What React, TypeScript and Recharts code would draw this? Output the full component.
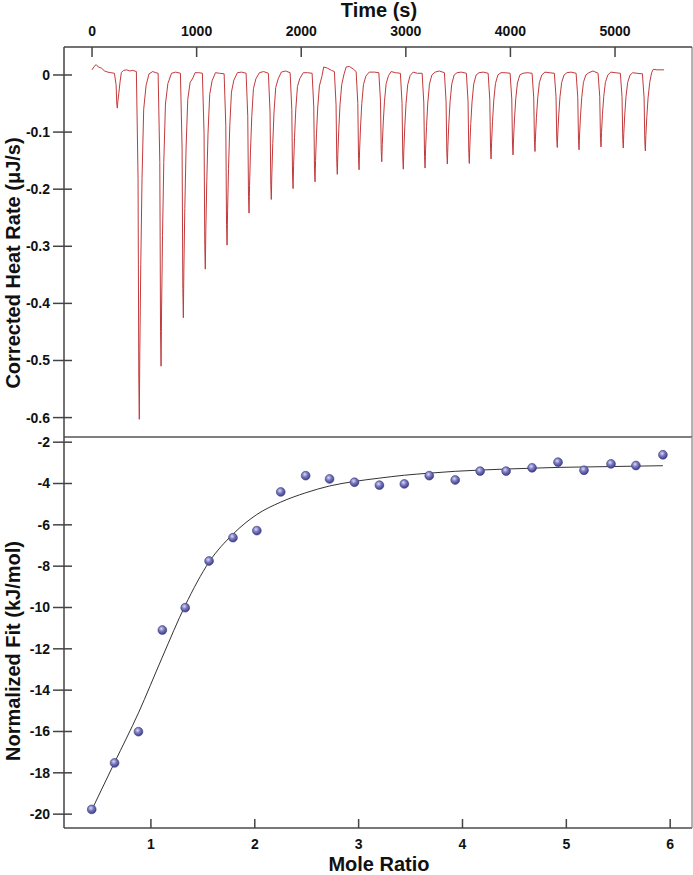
import React from 'react';
import {
  LineChart, Line, XAxis, YAxis, ComposedChart, Scatter, ReferenceLine,
} from 'recharts';

const FONT = "Arial, 'Liberation Sans', Helvetica, sans-serif";

// ---------- Top panel: thermogram (time s, corrected heat rate µJ/s) ----------
const heatTrace: [number, number][] = [
  [0, 0.009], [20, 0.015], [40, 0.018], [60, 0.014], [90, 0.012], [120, 0.007], [150, 0.005], [180, 0.004], [214, 0.003],
  [230, -0.017], [237, -0.051], [242, -0.058], [247, -0.046], [256, -0.032], [268, -0.012], [280, 0.004],
  [300, 0.008], [330, 0.009], [360, 0.007], [390, 0.008], [424, 0.006],
  [440, -0.181], [447, -0.531], [452, -0.603], [457, -0.482], [466, -0.332], [478, -0.181], [494, -0.060], [517, -0.018],
  [545, 0.002], [580, 0.006], [610, 0.004], [632, 0.003],
  [648, -0.153], [655, -0.449], [660, -0.510], [665, -0.408], [674, -0.281], [686, -0.153], [702, -0.051], [725, -0.015],
  [760, 0.003], [800, 0.005], [845, 0.003],
  [861, -0.128], [868, -0.374], [873, -0.425], [878, -0.340], [887, -0.234], [899, -0.128], [915, -0.043], [938, -0.013],
  [965, -0.005], [985, 0.004], [1020, 0.004], [1055, 0.003],
  [1071, -0.102], [1078, -0.299], [1083, -0.340], [1088, -0.272], [1097, -0.187], [1109, -0.102], [1125, -0.034], [1148, -0.010],
  [1180, 0.004], [1220, 0.003], [1263, 0.002],
  [1279, -0.089], [1286, -0.262], [1291, -0.298], [1296, -0.238], [1305, -0.164], [1317, -0.089], [1333, -0.030], [1356, -0.009],
  [1390, 0.004], [1430, 0.005], [1473, 0.003],
  [1489, -0.073], [1496, -0.213], [1501, -0.242], [1506, -0.194], [1515, -0.133], [1527, -0.073], [1543, -0.024], [1566, -0.007],
  [1600, 0.004], [1640, 0.006], [1686, 0.003],
  [1702, -0.065], [1709, -0.192], [1714, -0.218], [1719, -0.174], [1728, -0.120], [1740, -0.065], [1756, -0.022], [1779, -0.007],
  [1810, 0.005], [1850, 0.007], [1894, 0.004],
  [1910, -0.060], [1917, -0.175], [1922, -0.199], [1927, -0.159], [1936, -0.109], [1948, -0.060], [1964, -0.020], [1987, -0.006],
  [2020, 0.004], [2060, 0.004], [2104, 0.003],
  [2120, -0.056], [2127, -0.165], [2132, -0.187], [2137, -0.150], [2146, -0.103], [2158, -0.056], [2174, -0.019], [2197, -0.003],
  [2215, 0.014], [2250, 0.012], [2290, 0.008], [2317, 0.006],
  [2333, -0.052], [2340, -0.153], [2345, -0.174], [2350, -0.139], [2359, -0.096], [2371, -0.052], [2387, -0.017], [2410, 0.002],
  [2430, 0.014], [2460, 0.015], [2500, 0.010], [2525, 0.006],
  [2541, -0.050], [2548, -0.146], [2553, -0.166], [2558, -0.133], [2567, -0.091], [2579, -0.050], [2595, -0.017], [2618, -0.002],
  [2650, 0.005], [2700, 0.005], [2742, 0.004],
  [2758, -0.046], [2765, -0.134], [2770, -0.152], [2775, -0.122], [2784, -0.084], [2796, -0.046], [2812, -0.015], [2835, -0.001],
  [2860, 0.006], [2900, 0.004], [2948, 0.003],
  [2964, -0.050], [2971, -0.145], [2976, -0.165], [2981, -0.132], [2990, -0.091], [3002, -0.050], [3018, -0.017], [3041, -0.001],
  [3070, 0.005], [3110, 0.003], [3156, 0.003],
  [3172, -0.049], [3179, -0.143], [3184, -0.163], [3189, -0.130], [3198, -0.090], [3210, -0.049], [3226, -0.016], [3249, 0.000],
  [3280, 0.005], [3320, 0.007], [3369, 0.004],
  [3385, -0.047], [3392, -0.137], [3397, -0.156], [3402, -0.125], [3411, -0.086], [3423, -0.047], [3439, -0.016], [3462, 0.000],
  [3490, 0.004], [3530, 0.005], [3579, 0.003],
  [3595, -0.047], [3602, -0.136], [3607, -0.155], [3612, -0.124], [3621, -0.085], [3633, -0.047], [3649, -0.016], [3672, 0.000],
  [3700, 0.004], [3740, 0.005], [3787, 0.003],
  [3803, -0.044], [3810, -0.129], [3815, -0.147], [3820, -0.118], [3829, -0.081], [3841, -0.044], [3857, -0.015], [3880, 0.000],
  [3910, 0.004], [3950, 0.004], [3997, 0.003],
  [4013, -0.042], [4020, -0.123], [4025, -0.140], [4030, -0.112], [4039, -0.077], [4051, -0.042], [4067, -0.014], [4090, 0.000],
  [4120, 0.003], [4160, 0.004], [4207, 0.003],
  [4223, -0.040], [4230, -0.118], [4235, -0.134], [4240, -0.107], [4249, -0.074], [4261, -0.040], [4277, -0.013], [4300, 0.000],
  [4330, 0.005], [4370, 0.004], [4420, 0.003],
  [4436, -0.038], [4443, -0.112], [4448, -0.127], [4453, -0.102], [4462, -0.070], [4474, -0.038], [4490, -0.013], [4513, 0.000],
  [4540, 0.004], [4580, 0.005], [4628, 0.003],
  [4644, -0.039], [4651, -0.115], [4656, -0.131], [4661, -0.105], [4670, -0.072], [4682, -0.039], [4698, -0.013], [4721, 0.000],
  [4750, 0.004], [4790, 0.007], [4838, 0.003],
  [4854, -0.038], [4861, -0.111], [4866, -0.126], [4871, -0.101], [4880, -0.069], [4892, -0.038], [4908, -0.013], [4931, 0.000],
  [4960, 0.005], [5000, 0.004], [5051, 0.003],
  [5067, -0.038], [5074, -0.113], [5079, -0.128], [5084, -0.102], [5093, -0.070], [5105, -0.038], [5121, -0.013], [5144, 0.000],
  [5170, 0.004], [5210, 0.003], [5262, 0.002],
  [5278, -0.040], [5285, -0.117], [5290, -0.133], [5295, -0.106], [5304, -0.073], [5316, -0.040], [5332, -0.013], [5350, 0.004],
  [5366, 0.010], [5400, 0.009], [5440, 0.009], [5469, 0.009],
];

const timeTicks = [0, 1000, 2000, 3000, 4000, 5000];
const rateTicks = [0, -0.1, -0.2, -0.3, -0.4, -0.5, -0.6];
const TIME_DOMAIN: [number, number] = [-268, 5736];
const RATE_DOMAIN: [number, number] = [-0.634, 0.049];

// ---------- Bottom panel: integrated heats (mole ratio vs kJ/mol) ----------
const moleRatio = [0.43, 0.65, 0.88, 1.11, 1.33, 1.56, 1.79, 2.02, 2.25, 2.49, 2.72, 2.96,
  3.20, 3.44, 3.68, 3.93, 4.17, 4.42, 4.67, 4.92, 5.17, 5.43, 5.67, 5.93];
const normalizedHeat = [-19.77, -17.52, -16.01, -11.09, -10.01, -7.75, -6.62, -6.28, -4.41, -3.62, -3.78, -3.94,
  -4.08, -4.02, -3.62, -3.83, -3.40, -3.40, -3.24, -2.97, -3.36, -3.05, -3.13, -2.61];
const fitHeat = [-19.8, -17.5, -15.1, -12.4, -9.9, -7.8, -6.45, -5.5, -4.9, -4.45, -4.12, -3.9,
  -3.74, -3.6, -3.5, -3.41, -3.35, -3.3, -3.26, -3.22, -3.2, -3.18, -3.16, -3.14];

const ratioTicks = [1, 2, 3, 4, 5, 6];
const heatTicks = [-2, -4, -6, -8, -10, -12, -14, -16, -18, -20];
const RATIO_DOMAIN: [number, number] = [0.163, 6.21];
const HEAT_DOMAIN: [number, number] = [-20.67, -1.75];

const thermoData = heatTrace.map(([t, v]) => ({ t, v }));
const pointData = moleRatio.map((x, i) => ({ x, y: normalizedHeat[i] }));
const fitData = moleRatio.map((x, i) => ({ x, y: fitHeat[i] }));

const W = 693;
const H = 875;
const AXIS = '#444';

const labelStyle = { fontFamily: FONT, fontSize: 14, fontWeight: 'bold' as const, fill: '#111' };
const titleStyle = { fontFamily: FONT, fontSize: 20, fontWeight: 'bold' as const, fill: '#111' };

const LeftTick = (props: any) => {
  const { x, y, payload } = props;
  return (
    <g>
      <line x1={x - 11} x2={x + 8} y1={y} y2={y} stroke={AXIS} strokeWidth={1.5} />
      <text x={x - 14} y={y} dy={5} textAnchor="end" {...labelStyle}>{payload.value}</text>
    </g>
  );
};

const TopTick = (props: any) => {
  const { x, y, payload } = props;
  return (
    <g>
      <line x1={x} x2={x} y1={y} y2={y + 10} stroke={AXIS} strokeWidth={1.5} />
      <text x={x} y={y - 11} textAnchor="middle" {...labelStyle}>{payload.value}</text>
    </g>
  );
};

const BottomTick = (props: any) => {
  const { x, y, payload } = props;
  return (
    <g>
      <line x1={x} x2={x} y1={y} y2={y - 9} stroke={AXIS} strokeWidth={1.5} />
      <text x={x} y={y + 21} textAnchor="middle" {...labelStyle}>{payload.value}</text>
    </g>
  );
};

const Ball = (props: any) => {
  const { cx, cy } = props;
  if (cx == null || cy == null) return null;
  return <circle cx={cx} cy={cy} r={4.4} fill="url(#ballGrad)" stroke="#3a3a80" strokeWidth={0.6} />;
};

export default function App() {
  return (
    <div style={{ position: 'absolute', left: 0, top: 0, width: W, height: H, background: '#fff' }}>
      <div style={{ position: 'absolute', left: 0, top: 0 }}>
        <LineChart width={W} height={H} data={thermoData}
          margin={{ top: 17, right: 1, bottom: 438, left: 0 }}>
          <XAxis dataKey="t" type="number" orientation="top" domain={TIME_DOMAIN} allowDataOverflow
            ticks={timeTicks} interval={0} tickSize={0} tickMargin={0} tickLine={false} height={30}
            axisLine={{ stroke: AXIS, strokeWidth: 1.5 }} tick={<TopTick />} />
          <YAxis type="number" domain={RATE_DOMAIN} allowDataOverflow ticks={rateTicks} interval={0}
            width={64} tickSize={0} tickMargin={0} tickLine={false}
            axisLine={{ stroke: AXIS, strokeWidth: 1.5 }} tick={<LeftTick />} />
          <ReferenceLine x={TIME_DOMAIN[1]} stroke="#999" strokeWidth={1.5} />
          <ReferenceLine y={RATE_DOMAIN[0]} stroke="#555" strokeWidth={1.5} />
          <Line dataKey="v" type="linear" stroke="#c23a3c" strokeWidth={1} dot={false}
            isAnimationActive={false} />
          <text x={379} y={17} textAnchor="middle" {...titleStyle}>Time (s)</text>
          <text transform="translate(20,263) rotate(-90)" textAnchor="middle" {...titleStyle}>Corrected Heat Rate (μJ/s)</text>
        </LineChart>
      </div>
      <div style={{ position: 'absolute', left: 0, top: 0 }}>
        <ComposedChart width={W} height={H}
          margin={{ top: 437, right: 1, bottom: 17, left: 0 }}>
          <defs>
            <radialGradient id="ballGrad" cx="40%" cy="35%" r="65%">
              <stop offset="0%" stopColor="#dcdcf6" />
              <stop offset="45%" stopColor="#7b7bc2" />
              <stop offset="100%" stopColor="#3d3d8a" />
            </radialGradient>
          </defs>
          <XAxis dataKey="x" type="number" domain={RATIO_DOMAIN} allowDataOverflow ticks={ratioTicks}
            interval={0} tickSize={0} tickMargin={0} tickLine={false} height={30}
            axisLine={{ stroke: '#777', strokeWidth: 2 }} tick={<BottomTick />} />
          <YAxis dataKey="y" type="number" domain={HEAT_DOMAIN} allowDataOverflow ticks={heatTicks} interval={0}
            width={64} tickSize={0} tickMargin={0} tickLine={false}
            axisLine={{ stroke: AXIS, strokeWidth: 1.5 }} tick={<LeftTick />} />
          <ReferenceLine x={RATIO_DOMAIN[1]} stroke="#999" strokeWidth={1.5} />
          <Line data={fitData} dataKey="y" type="monotone" stroke="#333" strokeWidth={1} dot={false}
            isAnimationActive={false} />
          <Scatter data={pointData} dataKey="y" shape={<Ball />} isAnimationActive={false} />
          <text x={379} y={870.5} textAnchor="middle" {...titleStyle}>Mole Ratio</text>
          <text transform="translate(20,651) rotate(-90)" textAnchor="middle" {...titleStyle}>Normalized Fit (kJ/mol)</text>
        </ComposedChart>
      </div>
    </div>
  );
}
